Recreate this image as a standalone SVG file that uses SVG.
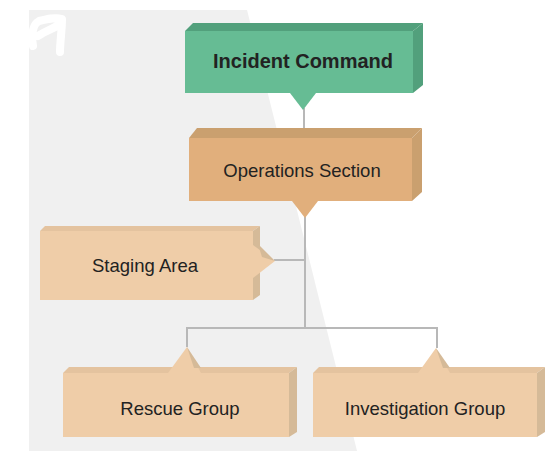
<svg xmlns="http://www.w3.org/2000/svg" width="559" height="451" viewBox="0 0 559 451">
<style>
.t{font-family:"Liberation Sans",Arial,sans-serif;fill:#222;text-anchor:middle;font-size:18.5px}
.conn{stroke:#b8b8b8;stroke-width:2;fill:none}
.gf{fill:#66bc94}.gd{fill:#52a07c}
.of{fill:#e1af7c}.od{fill:#caa06f}
.lf{fill:#efcda8}.ld{fill:#d5ba98}.lt{fill:#e4c39f}
</style>
<rect width="559" height="451" fill="#ffffff"/>
<polygon points="29,10 247,10 357,451 29,451" fill="#f0f0f0"/>
<path d="M33,46 C31,34 33,24 39,21 C47,19 55,17 62,19 C62,30 60,42 60,52 M38,36 C45,31 52,29 57,26" stroke="#ffffff" stroke-width="8" stroke-linecap="round" stroke-linejoin="round" fill="none"/>
<g id="connectors">
<line class="conn" x1="304" y1="108" x2="304" y2="128"/>
<line class="conn" x1="305" y1="216" x2="305" y2="328"/>
<line class="conn" x1="274" y1="260" x2="305" y2="260"/>
<polyline class="conn" points="187,347 187,328 437,328 437,348"/>
</g>
<g id="incident-command">
<polygon class="gd" points="185,31 193,23 423,23 413,31"/>
<polygon class="gd" points="413,31 423,23 423,85 413,93"/>
<rect class="gf" x="185" y="31" width="228" height="62"/>
<polygon class="gf" points="290,93 316,93 303,110"/>
<text class="t" x="303" y="68" font-size="20" font-weight="bold" style="font-size:20px">Incident Command</text>
</g>
<g id="operations-section">
<polygon class="od" points="189,138 197,128 422,128 412,138"/>
<polygon class="od" points="412,138 422,128 422,192 412,201"/>
<rect class="of" x="189" y="138" width="223" height="63"/>
<polygon class="of" points="292,201 318,201 305,218"/>
<text class="t" x="302" y="177">Operations Section</text>
</g>
<g id="staging-area">
<polygon class="lt" points="40,231 45,226 260,226 253,231"/>
<polygon class="ld" points="253,231 260,226 260,295 253,300"/>
<rect class="lf" x="40" y="231" width="213" height="69"/>
<polygon class="lf" points="253,245 275,261 253,278"/>
<polygon class="ld" points="258,244 275,261 262,257"/>
<text class="t" x="145" y="272">Staging Area</text>
</g>
<g id="rescue-group">
<polygon class="lt" points="63,373 69,367 297,367 289,373"/>
<polygon class="ld" points="289,373 297,367 297,432 289,437"/>
<rect class="lf" x="63" y="373" width="226" height="64"/>
<polygon class="lf" points="168,373 187,347 201,373"/>
<polygon class="ld" points="187,347 201,368 194,368"/>
<text class="t" x="180" y="415">Rescue Group</text>
</g>
<g id="investigation-group">
<polygon class="lt" points="313,373 319,367 545,367 537,373"/>
<polygon class="ld" points="537,373 545,367 545,432 537,437"/>
<rect class="lf" x="313" y="373" width="224" height="64"/>
<polygon class="lf" points="418,373 436,348 450,373"/>
<polygon class="ld" points="436,348 450,368 443,368"/>
<text class="t" x="425" y="415">Investigation Group</text>
</g>
</svg>
